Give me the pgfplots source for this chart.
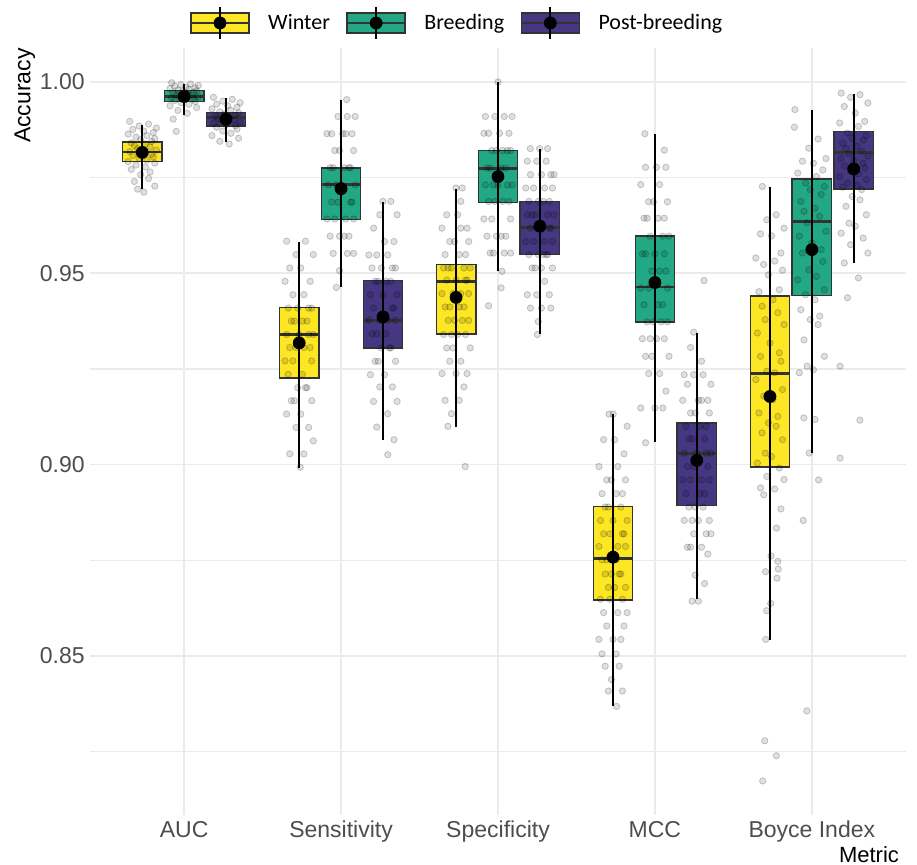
\documentclass[border=0pt]{standalone}
\usepackage{pgfplots}
\pgfplotsset{compat=1.18}
\usepackage{pgfplotstable}
\usepackage{fontspec}
\setmainfont{Liberation Sans}
\newfontfamily\legfont{Carlito}
\definecolor{cW}{HTML}{FDE725}
\definecolor{cB}{HTML}{22A884}
\definecolor{cP}{HTML}{453781}
\definecolor{boxline}{HTML}{333333}
\definecolor{tickgray}{HTML}{4D4D4D}
\definecolor{gridgray}{HTML}{EBEBEB}

% jittered observations: x = category index + dodge offset + jitter
\pgfplotstableread{
x y
-0.347 0.9897
-0.227 0.9890
-0.287 0.9885
-0.177 0.9880
-0.327 0.9876
-0.257 0.9872
-0.197 0.9868
-0.357 0.9864
-0.237 0.9860
-0.307 0.9856
-0.187 0.9852
-0.277 0.9849
-0.207 0.9845
-0.337 0.9841
-0.247 0.9838
-0.317 0.9834
-0.217 0.9830
-0.297 0.9826
-0.177 0.9822
-0.347 0.9818
-0.267 0.9815
-0.207 0.9811
-0.327 0.9808
-0.197 0.9804
-0.287 0.9800
-0.237 0.9796
-0.357 0.9792
-0.187 0.9788
-0.307 0.9783
-0.247 0.9778
-0.337 0.9772
-0.217 0.9765
-0.277 0.9758
-0.227 0.9748
-0.317 0.9740
-0.187 0.9728
-0.297 0.9720
-0.257 0.9712
-0.08 0.9998
0.04 0.9995
-0.02 0.9993
0.09 0.9991
-0.06 0.9989
0.01 0.9987
0.07 0.9985
-0.09 0.9983
0.03 0.9981
-0.04 0.9979
0.08 0.9977
-0.01 0.9975
0.06 0.9973
-0.07 0.9971
0.02 0.9969
-0.05 0.9967
0.05 0.9965
-0.03 0.9963
0.09 0.9961
-0.08 0.9959
0.00 0.9957
0.06 0.9955
-0.06 0.9952
0.07 0.9949
-0.02 0.9946
0.03 0.9942
-0.09 0.9938
0.08 0.9933
-0.04 0.9926
0.02 0.9918
-0.07 0.9903
-0.05 0.9871
0.187 0.9960
0.307 0.9955
0.247 0.9950
0.357 0.9946
0.207 0.9942
0.277 0.9938
0.337 0.9934
0.177 0.9930
0.297 0.9926
0.227 0.9922
0.347 0.9919
0.257 0.9916
0.327 0.9913
0.197 0.9910
0.287 0.9907
0.217 0.9904
0.317 0.9901
0.237 0.9898
0.357 0.9895
0.187 0.9892
0.267 0.9889
0.327 0.9886
0.207 0.9882
0.337 0.9877
0.247 0.9872
0.297 0.9866
0.177 0.9860
0.347 0.9853
0.227 0.9845
0.287 0.9838
0.653 0.9584
0.773 0.9584
0.713 0.9549
0.823 0.9549
0.673 0.9514
0.743 0.9514
0.803 0.9479
0.643 0.9479
0.763 0.9444
0.693 0.9444
0.813 0.9409
0.723 0.9409
0.793 0.9409
0.663 0.9409
0.753 0.9375
0.683 0.9375
0.783 0.9375
0.703 0.9375
0.823 0.9340
0.653 0.9340
0.733 0.9340
0.793 0.9340
0.673 0.9306
0.803 0.9306
0.713 0.9306
0.763 0.9306
0.643 0.9271
0.813 0.9271
0.693 0.9271
0.753 0.9236
0.663 0.9236
0.783 0.9201
0.723 0.9201
0.773 0.9201
0.683 0.9167
0.813 0.9167
0.703 0.9167
0.743 0.9132
0.653 0.9132
0.793 0.9097
0.713 0.9097
0.823 0.9062
0.673 0.9028
0.763 0.9028
0.740 0.8993
1.036 0.9954
1.040 0.9910
0.980 0.9910
1.090 0.9910
0.940 0.9865
1.010 0.9865
1.070 0.9865
0.910 0.9865
1.030 0.9865
0.960 0.9821
1.080 0.9821
0.990 0.9821
1.060 0.9776
0.930 0.9776
1.020 0.9776
0.950 0.9776
1.050 0.9776
0.970 0.9731
1.090 0.9731
0.920 0.9731
1.000 0.9731
1.060 0.9686
0.940 0.9686
1.070 0.9686
0.980 0.9686
1.030 0.9642
0.910 0.9642
1.080 0.9642
0.960 0.9642
1.020 0.9597
0.930 0.9597
1.050 0.9597
0.990 0.9597
1.040 0.9552
0.950 0.9552
1.080 0.9552
0.990 0.9507
0.970 0.9463
1.267 0.9688
1.317 0.9688
1.247 0.9653
1.357 0.9653
1.207 0.9618
1.277 0.9583
1.337 0.9583
1.177 0.9548
1.297 0.9548
1.227 0.9548
1.347 0.9514
1.257 0.9514
1.327 0.9514
1.197 0.9514
1.287 0.9479
1.217 0.9479
1.317 0.9479
1.237 0.9479
1.357 0.9444
1.187 0.9444
1.267 0.9444
1.327 0.9409
1.207 0.9409
1.337 0.9409
1.247 0.9377
1.297 0.9377
1.177 0.9377
1.347 0.9377
1.227 0.9342
1.287 0.9342
1.197 0.9342
1.317 0.9305
1.257 0.9305
1.307 0.9305
1.217 0.9270
1.347 0.9270
1.237 0.9270
1.277 0.9235
1.187 0.9235
1.327 0.9203
1.247 0.9203
1.357 0.9165
1.207 0.9165
1.297 0.9133
1.227 0.9098
1.337 0.9065
1.297 0.9026
1.732 0.9723
1.772 0.9723
1.763 0.9688
1.673 0.9653
1.743 0.9653
1.803 0.9618
1.643 0.9618
1.763 0.9618
1.693 0.9583
1.813 0.9583
1.723 0.9583
1.793 0.9549
1.663 0.9549
1.753 0.9549
1.683 0.9514
1.783 0.9514
1.703 0.9514
1.823 0.9514
1.653 0.9514
1.733 0.9482
1.793 0.9482
1.673 0.9482
1.803 0.9482
1.713 0.9447
1.763 0.9447
1.643 0.9447
1.813 0.9447
1.693 0.9412
1.753 0.9412
1.663 0.9412
1.783 0.9412
1.723 0.9377
1.773 0.9377
1.683 0.9377
1.813 0.9377
1.703 0.9340
1.743 0.9340
1.653 0.9340
1.793 0.9340
1.713 0.9305
1.823 0.9305
1.673 0.9305
1.763 0.9270
1.693 0.9270
1.803 0.9238
1.643 0.9238
1.733 0.9238
1.783 0.9203
1.663 0.9168
1.753 0.9168
1.703 0.9133
1.681 0.9100
1.791 0.8995
2.000 1.0000
1.920 0.9910
2.040 0.9910
1.980 0.9910
2.090 0.9910
1.940 0.9866
2.010 0.9866
2.070 0.9866
1.910 0.9866
2.030 0.9821
1.960 0.9821
2.080 0.9821
1.990 0.9821
2.060 0.9821
1.930 0.9775
2.020 0.9775
1.950 0.9775
2.050 0.9775
1.970 0.9731
2.090 0.9731
1.920 0.9731
2.000 0.9731
2.060 0.9731
1.940 0.9688
2.070 0.9688
1.980 0.9688
2.030 0.9688
1.910 0.9642
2.080 0.9642
1.960 0.9642
2.020 0.9597
1.930 0.9597
2.050 0.9597
1.990 0.9597
2.040 0.9553
1.950 0.9553
2.080 0.9553
1.970 0.9553
2.026 0.9505
2.020 0.9462
1.940 0.9415
2.206 0.9826
2.265 0.9826
2.316 0.9826
2.187 0.9793
2.307 0.9793
2.247 0.9793
2.357 0.9758
2.207 0.9758
2.277 0.9758
2.337 0.9758
2.177 0.9723
2.297 0.9723
2.227 0.9723
2.347 0.9723
2.257 0.9688
2.327 0.9688
2.197 0.9688
2.287 0.9688
2.217 0.9653
2.317 0.9653
2.237 0.9653
2.357 0.9653
2.187 0.9653
2.267 0.9618
2.327 0.9618
2.207 0.9618
2.337 0.9618
2.247 0.9618
2.297 0.9583
2.177 0.9583
2.347 0.9583
2.227 0.9583
2.287 0.9549
2.197 0.9549
2.317 0.9549
2.257 0.9549
2.307 0.9549
2.217 0.9514
2.347 0.9514
2.237 0.9514
2.277 0.9514
2.297 0.9479
2.187 0.9444
2.327 0.9444
2.247 0.9444
2.207 0.9409
2.277 0.9409
2.337 0.9409
2.257 0.9374
2.251 0.9340
2.708 0.9132
2.734 0.9132
2.823 0.9100
2.673 0.9065
2.743 0.9065
2.803 0.9028
2.643 0.8995
2.763 0.8995
2.693 0.8960
2.813 0.8960
2.723 0.8960
2.793 0.8924
2.663 0.8924
2.753 0.8924
2.683 0.8889
2.783 0.8889
2.703 0.8889
2.823 0.8854
2.653 0.8854
2.733 0.8854
2.793 0.8819
2.673 0.8819
2.803 0.8819
2.713 0.8819
2.763 0.8786
2.643 0.8786
2.813 0.8786
2.693 0.8751
2.753 0.8751
2.663 0.8751
2.783 0.8714
2.723 0.8714
2.773 0.8714
2.683 0.8714
2.813 0.8679
2.703 0.8679
2.743 0.8679
2.653 0.8648
2.793 0.8648
2.713 0.8648
2.823 0.8613
2.673 0.8613
2.763 0.8613
2.693 0.8578
2.803 0.8578
2.643 0.8543
2.733 0.8543
2.783 0.8543
2.663 0.8505
2.753 0.8505
2.683 0.8473
2.773 0.8473
2.723 0.8438
2.703 0.8408
2.793 0.8408
2.756 0.8368
2.936 0.9865
3.060 0.9822
2.940 0.9777
3.010 0.9777
3.070 0.9777
2.910 0.9732
3.030 0.9732
2.960 0.9687
3.080 0.9687
2.990 0.9687
3.060 0.9644
2.930 0.9644
3.020 0.9644
2.950 0.9644
3.050 0.9597
2.970 0.9597
3.090 0.9597
2.920 0.9551
3.000 0.9551
3.060 0.9551
2.940 0.9551
3.070 0.9506
2.980 0.9506
3.030 0.9506
2.910 0.9461
3.080 0.9461
2.960 0.9461
3.020 0.9418
2.930 0.9418
3.050 0.9418
2.990 0.9373
3.040 0.9373
2.950 0.9373
3.080 0.9373
2.970 0.9329
3.010 0.9329
2.920 0.9329
3.060 0.9329
2.980 0.9283
3.090 0.9283
2.940 0.9283
3.030 0.9238
2.960 0.9238
3.070 0.9192
2.910 0.9148
3.000 0.9148
3.050 0.9148
2.940 0.9057
3.313 0.9481
3.247 0.9346
3.227 0.9306
3.297 0.9270
3.187 0.9235
3.307 0.9235
3.247 0.9235
3.357 0.9210
3.207 0.9210
3.277 0.9168
3.337 0.9168
3.177 0.9168
3.297 0.9168
3.227 0.9135
3.347 0.9135
3.257 0.9135
3.327 0.9100
3.197 0.9100
3.287 0.9100
3.217 0.9067
3.317 0.9067
3.237 0.9067
3.357 0.9030
3.187 0.9030
3.267 0.9030
3.327 0.9030
3.207 0.8995
3.337 0.8995
3.247 0.8995
3.297 0.8960
3.177 0.8960
3.347 0.8960
3.227 0.8960
3.287 0.8924
3.197 0.8924
3.317 0.8924
3.257 0.8889
3.307 0.8889
3.217 0.8889
3.347 0.8854
3.237 0.8854
3.277 0.8854
3.187 0.8854
3.327 0.8819
3.247 0.8819
3.357 0.8819
3.207 0.8784
3.297 0.8784
3.227 0.8784
3.337 0.8766
3.257 0.8711
3.317 0.8689
3.237 0.8643
3.277 0.8643
3.685 0.9727
3.773 0.9653
3.713 0.9640
3.823 0.9618
3.673 0.9603
3.743 0.9598
3.803 0.9553
3.643 0.9540
3.763 0.9532
3.693 0.9523
3.813 0.9508
3.723 0.9496
3.793 0.9457
3.663 0.9452
3.753 0.9431
3.683 0.9414
3.783 0.9397
3.703 0.9379
3.823 0.9366
3.653 0.9344
3.733 0.9318
3.793 0.9292
3.673 0.9283
3.803 0.9270
3.713 0.9244
3.763 0.9240
3.643 0.9222
3.813 0.9196
3.693 0.9179
3.753 0.9170
3.663 0.9135
3.783 0.9126
3.723 0.9109
3.773 0.9100
3.683 0.9083
3.813 0.9065
3.703 0.9030
3.743 0.9021
3.653 0.9004
3.793 0.8991
3.713 0.8969
3.823 0.8961
3.673 0.8939
3.763 0.8936
3.693 0.8921
3.803 0.8884
3.775 0.8834
3.740 0.8761
3.783 0.8747
3.786 0.8727
3.705 0.8720
3.778 0.8703
3.738 0.8637
3.712 0.8618
3.706 0.8543
3.700 0.8278
3.774 0.8239
3.687 0.8173
3.892 0.9928
3.889 0.9882
4.040 0.9851
3.980 0.9827
4.090 0.9800
3.940 0.9793
4.010 0.9788
4.070 0.9770
3.910 0.9762
4.030 0.9753
3.960 0.9736
4.080 0.9727
3.990 0.9719
4.060 0.9706
3.930 0.9688
4.020 0.9670
3.950 0.9662
4.050 0.9649
3.970 0.9632
4.090 0.9610
3.920 0.9597
4.000 0.9579
4.060 0.9562
3.940 0.9553
4.070 0.9531
3.980 0.9509
4.030 0.9492
3.910 0.9483
4.080 0.9457
3.960 0.9444
4.020 0.9431
3.930 0.9405
4.050 0.9388
3.990 0.9379
4.040 0.9366
3.950 0.9326
4.080 0.9283
3.970 0.9257
4.010 0.9248
3.920 0.9240
3.949 0.9122
4.020 0.9118
3.983 0.9030
4.043 0.8960
3.945 0.8854
3.968 0.8356
4.187 0.9971
4.307 0.9967
4.247 0.9960
4.357 0.9945
4.207 0.9936
4.277 0.9919
4.337 0.9897
4.177 0.9893
4.297 0.9884
4.227 0.9867
4.347 0.9860
4.257 0.9854
4.327 0.9848
4.197 0.9840
4.287 0.9832
4.217 0.9826
4.317 0.9819
4.237 0.9812
4.357 0.9806
4.187 0.9801
4.267 0.9795
4.327 0.9788
4.207 0.9781
4.337 0.9775
4.247 0.9768
4.297 0.9760
4.177 0.9753
4.347 0.9745
4.227 0.9736
4.287 0.9730
4.197 0.9725
4.317 0.9719
4.257 0.9701
4.307 0.9692
4.217 0.9675
4.347 0.9653
4.237 0.9631
4.277 0.9623
4.187 0.9605
4.327 0.9592
4.247 0.9575
4.357 0.9553
4.207 0.9527
4.297 0.9488
4.227 0.9436
4.180 0.9257
4.306 0.9116
4.180 0.9017
}\pts

% mean with upper/lower extent of the vertical line
\pgfplotstableread{
x y ep em
-0.267 0.9816 0.0072 0.0096
0.733 0.9318 0.0264 0.0327
1.733 0.9437 0.0284 0.0338
2.733 0.8758 0.0375 0.0390
3.733 0.9178 0.0548 0.0636
}\meanW
\pgfplotstableread{
x y ep em
0 0.9962 0.0034 0.0049
1 0.9721 0.0233 0.0257
2 0.9753 0.0246 0.0248
3 0.9476 0.0388 0.0418
4 0.9562 0.0365 0.0532
}\meanB
\pgfplotstableread{
x y ep em
0.267 0.9903 0.0055 0.0061
1.267 0.9386 0.0301 0.0322
2.267 0.9623 0.0202 0.0281
3.267 0.9011 0.0332 0.0362
4.267 0.9773 0.0195 0.0246
}\meanP

\newcommand{\legglyph}[1]{%
  \draw[fill=#1, draw=boxline, line width=0.8pt] (0pt,-5pt) rectangle (29pt,5pt);
  \draw[draw=boxline, line width=1.2pt] (0pt,0pt) -- (29pt,0pt);
  \draw[black, line width=0.9pt] (14.5pt,-8pt) -- (14.5pt,8pt);
  \fill[black] (14.5pt,0pt) circle (3pt);}

% box: left x, right x, lower quartile, median, upper quartile, colour
\newcommand{\bx}[6]{%
  \addplot[forget plot, draw=boxline, fill=#6, line width=0.8pt]
    coordinates {(#1,#3) (#2,#3) (#2,#5) (#1,#5)} -- cycle;
  \addplot[forget plot, draw=boxline, line width=1.4pt]
    coordinates {(#1,#4) (#2,#4)};}

\begin{document}
\begin{tikzpicture}
\begin{axis}[
  at={(0,0)}, anchor=south west,
  scale only axis, width=408pt, height=383.5pt,
  xmin=-0.6, xmax=4.6, ymin=0.8084, ymax=1.0089,
  xtick={0,1,2,3,4},
  xticklabels={AUC,Sensitivity,Specificity,MCC,Boyce Index},
  ytick={0.85,0.90,0.95,1.00},
  yticklabels={0.85,0.90,0.95,1.00},
  minor ytick={0.825,0.875,0.925,0.975},
  xmajorgrids=true, ymajorgrids=true, yminorgrids=true,
  major grid style={draw=gridgray, line width=0.9pt},
  minor grid style={draw=gridgray, line width=0.6pt},
  axis line style={draw=none},
  major tick length=0pt, minor tick length=0pt,
  tick style={draw=none},
  ticklabel style={font=\fontsize{11.5}{13}\selectfont, text=tickgray},
  xticklabel style={anchor=base, yshift=-11.5pt},
  yticklabel style={anchor=east, inner xsep=2.5pt},
  xlabel={Metric}, ylabel={Accuracy},
  every axis x label/.style={at={(axis description cs:1,-0.0613)}, anchor=base east, font=\fontsize{11}{13}\selectfont},
  every axis y label/.style={at={(axis description cs:-0.0797,1)}, rotate=90, anchor=east, inner xsep=0pt, font=\fontsize{11.5}{13}\selectfont},
  legend columns=3,
  legend style={at={(axis description cs:0.451,1.0326)}, anchor=center,
    draw=none, fill=none, font=\legfont\fontsize{11}{13}\selectfont,
    /tikz/every odd column/.append style={column sep=7pt},
    /tikz/every even column/.append style={column sep=6pt}},
  legend cell align=left,
]
\bx{-0.392}{-0.142}{0.9792}{0.9817}{0.9844}{cW}
\bx{-0.125}{0.125}{0.9949}{0.9963}{0.9978}{cB}
\bx{0.142}{0.392}{0.9885}{0.9907}{0.9920}{cP}
\bx{0.608}{0.858}{0.9226}{0.9340}{0.9411}{cW}
\bx{0.875}{1.125}{0.9641}{0.9732}{0.9776}{cB}
\bx{1.142}{1.392}{0.9304}{0.9377}{0.9481}{cP}
\bx{1.608}{1.858}{0.9341}{0.9479}{0.9523}{cW}
\bx{1.875}{2.125}{0.9685}{0.9775}{0.9821}{cB}
\bx{2.142}{2.392}{0.9549}{0.9619}{0.9688}{cP}
\bx{2.608}{2.858}{0.8646}{0.8755}{0.8890}{cW}
\bx{2.875}{3.125}{0.9373}{0.9464}{0.9597}{cB}
\bx{3.142}{3.392}{0.8893}{0.9028}{0.9109}{cP}
\bx{3.608}{3.858}{0.8993}{0.9238}{0.9441}{cW}
\bx{3.875}{4.125}{0.9442}{0.9635}{0.9747}{cB}
\bx{4.142}{4.392}{0.9721}{0.9816}{0.9871}{cP}

% jittered points
\addplot[forget plot, only marks, mark=*, mark size=1.6pt,
  mark options={fill=black, fill opacity=0.12, draw=black, draw opacity=0.2, line width=0.4pt}]
  table[x=x, y=y] {\pts};

% means with vertical ranges
\addplot[only marks, mark=*, mark size=3pt, black,
  legend image code/.code={\legglyph{cW}},
  error bars/.cd, y dir=both, y explicit, error mark=none,
  error bar style={line width=0.9pt, black}]
  table[x=x, y=y, y error plus=ep, y error minus=em] {\meanW};
\addlegendentry{Winter}
\addplot[only marks, mark=*, mark size=3pt, black,
  legend image code/.code={\legglyph{cB}},
  error bars/.cd, y dir=both, y explicit, error mark=none,
  error bar style={line width=0.9pt, black}]
  table[x=x, y=y, y error plus=ep, y error minus=em] {\meanB};
\addlegendentry{Breeding}
\addplot[only marks, mark=*, mark size=3pt, black,
  legend image code/.code={\legglyph{cP}},
  error bars/.cd, y dir=both, y explicit, error mark=none,
  error bar style={line width=0.9pt, black}]
  table[x=x, y=y, y error plus=ep, y error minus=em] {\meanP};
\addlegendentry{Post-breeding}
\end{axis}
\pgfresetboundingbox
\path[use as bounding box] (-45pt,-25pt) rectangle (413.5pt,407.5pt);
\end{tikzpicture}
\end{document}
